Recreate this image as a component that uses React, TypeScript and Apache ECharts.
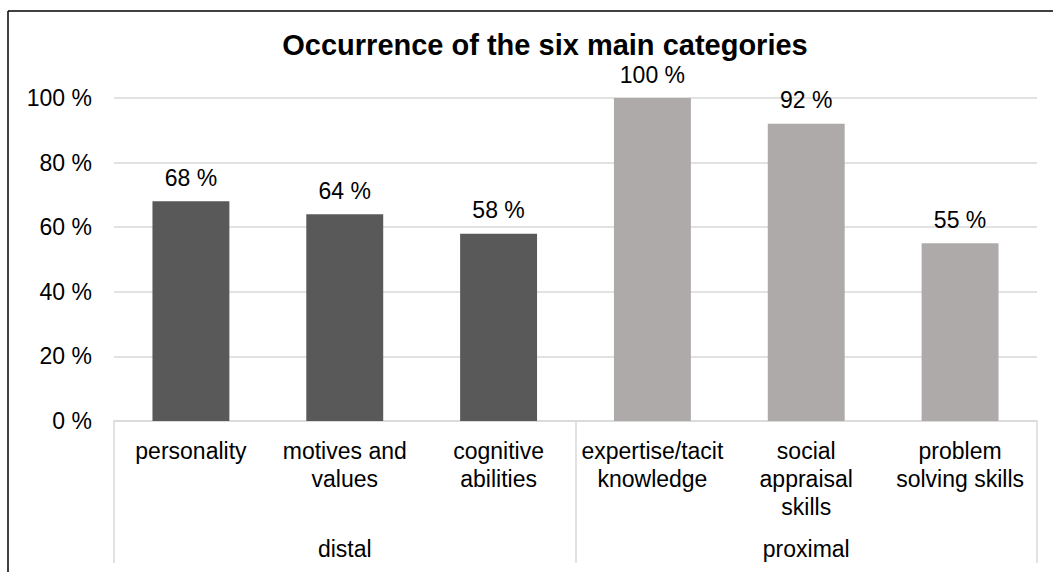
import React, { useEffect, useRef } from "react";
import * as echarts from "echarts";

const categories = [
  "personality",
  "motives and\nvalues",
  "cognitive\nabilities",
  "expertise/tacit\nknowledge",
  "social\nappraisal\nskills",
  "problem\nsolving skills",
];
const categoryGroups = ["distal", "distal", "distal", "proximal", "proximal", "proximal"];
const groupNames = ["distal", "proximal"];
const occurrence = [68, 64, 58, 100, 92, 55];
const yTicks = { min: 0, max: 100, interval: 20 };
const groupColors: Record<string, string> = { distal: "#595959", proximal: "#AEAAAA" };

const FONT = "'Liberation Sans', Arial, sans-serif";
const LABEL_SIZE = 23;

export default function App() {
  const ref = useRef<HTMLDivElement>(null);

  useEffect(() => {
    if (!ref.current) return;
    const chart = echarts.init(ref.current, undefined, { renderer: "svg" });
    chart.setOption({
      animation: false,
      backgroundColor: "#ffffff",
      textStyle: { fontFamily: FONT },
      title: {
        text: "Occurrence of the six main categories",
        left: 540,
        textAlign: "center",
        top: 25,
        textStyle: { fontFamily: FONT, fontSize: 29, fontWeight: "bold", color: "#000000" },
      },
      grid: { left: 114, right: 16, top: 98, bottom: 151, containLabel: false },
      xAxis: [
        {
          type: "category",
          data: categories,
          position: "bottom",
          axisLine: { show: true, lineStyle: { color: "#d9d9d9", width: 1.5 } },
          axisTick: { show: false },
          axisLabel: {
            interval: 0,
            margin: 16,
            fontSize: LABEL_SIZE,
            lineHeight: 28,
            color: "#000000",
            fontFamily: FONT,
            verticalAlign: "top",
          },
        },
        {
          type: "category",
          data: groupNames,
          position: "bottom",
          axisLine: { show: false },
          axisTick: {
            show: true,
            inside: false,
            length: 142,
            interval: 0,
            lineStyle: { color: "#d9d9d9", width: 1.5 },
          },
          axisLabel: {
            interval: 0,
            margin: 116,
            fontSize: LABEL_SIZE,
            color: "#000000",
            fontFamily: FONT,
          },
        },
      ],
      yAxis: {
        type: "value",
        min: yTicks.min,
        max: yTicks.max,
        interval: yTicks.interval,
        axisLine: { show: false },
        axisTick: { show: false },
        splitLine: { lineStyle: { color: "#d9d9d9", width: 1.5 } },
        axisLabel: {
          formatter: "{value} %",
          fontSize: LABEL_SIZE,
          margin: 22,
          color: "#000000",
          fontFamily: FONT,
        },
      },
      series: [
        {
          type: "bar",
          xAxisIndex: 0,
          barWidth: "50%",
          data: occurrence.map((v, i) => ({
            value: v,
            itemStyle: { color: groupColors[categoryGroups[i]] },
          })),
          label: {
            show: true,
            position: "top",
            distance: 12,
            formatter: "{c} %",
            fontSize: LABEL_SIZE,
            color: "#000000",
            fontFamily: FONT,
          },
        },
      ],
      graphic: [
        {
          type: "line",
          shape: { x1: 8, y1: 11, x2: 1053, y2: 11 },
          style: { stroke: "#000000", lineWidth: 1.5 },
        },
        {
          type: "line",
          shape: { x1: 8, y1: 11, x2: 8, y2: 572 },
          style: { stroke: "#000000", lineWidth: 1.5 },
        },
      ],
    });
    return () => chart.dispose();
  }, []);

  return (
    <div
      ref={ref}
      style={{ position: "absolute", left: 0, top: 0, width: 1053, height: 572 }}
    />
  );
}
